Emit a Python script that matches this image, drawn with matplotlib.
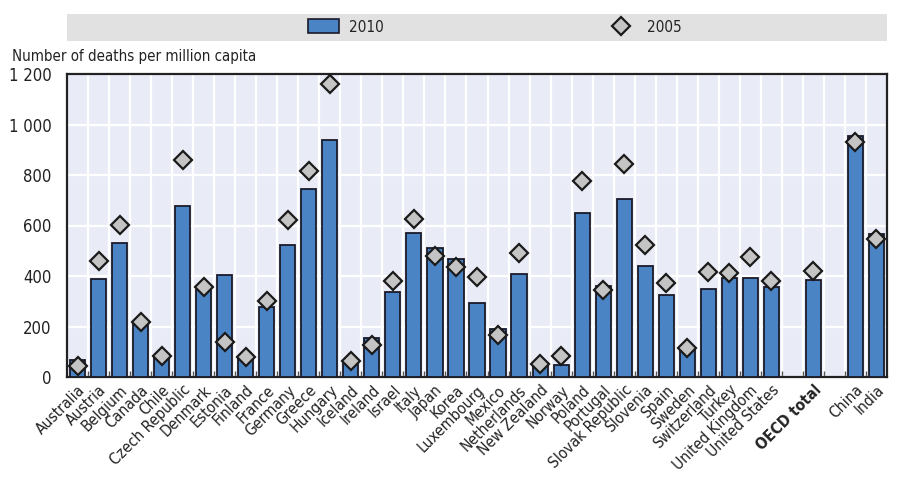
import numpy as np
import matplotlib.pyplot as plt
from matplotlib.patches import Rectangle
from matplotlib.lines import Line2D

plt.rcParams['font.family'] = ['DejaVu Sans']
plt.rcParams['font.stretch'] = 'condensed'

# OECD countries, then OECD total, then partner countries
countries = ["Australia", "Austria", "Belgium", "Canada", "Chile", "Czech Republic",
             "Denmark", "Estonia", "Finland", "France", "Germany", "Greece", "Hungary",
             "Iceland", "Ireland", "Israel", "Italy", "Japan", "Korea", "Luxembourg",
             "Mexico", "Netherlands", "New Zealand", "Norway", "Poland", "Portugal",
             "Slovak Republic", "Slovenia", "Spain", "Sweden", "Switzerland", "Turkey",
             "United Kingdom", "United States"]
deaths_2010 = [68, 388, 532, 212, 82, 677, 345, 402, 75, 277, 523, 745, 938,
               58, 156, 335, 570, 512, 467, 295, 190, 406, 55, 46, 650, 362,
               705, 438, 324, 114, 349, 394, 392, 356]
deaths_2005 = [45, 458, 603, 216, 82, 860, 355, 139, 78, 302, 620, 814, 1160,
               63, 126, 382, 624, 478, 437, 396, 165, 492, 52, 83, 777, 343,
               845, 521, 374, 116, 415, 410, 476, 381]

total_label = "OECD total"
total_2010 = 386
total_2005 = 418

partners = ["China", "India"]
partners_2010 = [953, 565]
partners_2005 = [930, 545]

# slot layout: countries, gap, OECD total, gap, partners
n = len(countries)
pos_countries = np.arange(n)
pos_total = n + 1
pos_partners = np.arange(n + 3, n + 3 + len(partners))
n_slots = n + 3 + len(partners)

labels = countries + [total_label] + partners
positions = list(pos_countries) + [pos_total] + list(pos_partners)
v2010 = deaths_2010 + [total_2010] + partners_2010
v2005 = deaths_2005 + [total_2005] + partners_2005

bar_color = "#4a84c4"
edge_color = "#1a1a2a"
bg_color = "#e9ecf7"
text_color = "#222222"

fig = plt.figure(figsize=(9.02, 4.83), dpi=100)
ax = fig.add_axes([67 / 902, 1 - 377 / 483, 820 / 902, 303 / 483])
ax.set_facecolor(bg_color)

ax.bar(positions, v2010, width=0.72, color=bar_color, edgecolor=edge_color,
       linewidth=1.3, zorder=3)
ax.plot(positions, v2005, linestyle="none", marker="D", markersize=9,
        markerfacecolor="#c4c4c4", markeredgecolor="#1a1a1a", markeredgewidth=1.6,
        zorder=4)

ax.set_xlim(-0.5, n_slots - 0.5)
ax.set_ylim(0, 1200)
ax.set_yticks(np.arange(0, 1201, 200))
ax.set_yticklabels(["{:,}".format(v).replace(",", " ") for v in range(0, 1201, 200)])
ax.grid(axis="y", color="white", linewidth=1.6, zorder=1)

# white separators between slots + small inward ticks at the bottom
bounds = np.arange(0.5, n_slots - 0.5, 1)
for b in bounds:
    ax.axvline(b, color="white", linewidth=1.6, zorder=1)
ax.set_xticks(bounds, minor=True)
ax.tick_params(axis="x", which="minor", direction="in", length=4, width=1,
               color="#555555")

ax.set_xticks(positions)
ax.set_xticklabels(labels, rotation=45, ha="right", rotation_mode="anchor",
                   fontsize=11.2, color=text_color)
ax.get_xticklabels()[n].set_fontweight("bold")
ax.tick_params(axis="x", which="major", length=0, pad=4)
ax.tick_params(axis="y", length=0, labelsize=12, pad=11, colors=text_color)

for s in ax.spines.values():
    s.set_linewidth(1.6)
    s.set_color("#222222")

fig.text(12 / 902, 1 - 57 / 483, "Number of deaths per million capita",
         fontsize=10.8, va="center", ha="left", color=text_color)

# legend band
fig.patches.append(Rectangle((67 / 902, 1 - 41 / 483), 820 / 902, 27 / 483,
                             transform=fig.transFigure, facecolor="#e1e1e1",
                             edgecolor="none", zorder=0))
handles = [Rectangle((0, 0), 1, 1, facecolor=bar_color, edgecolor=edge_color, linewidth=1.2),
           Line2D([], [], linestyle="none", marker="D", markersize=9,
                  markerfacecolor="#c4c4c4", markeredgecolor="#1a1a1a",
                  markeredgewidth=1.6)]
fig.legend(handles, ["2010", "2005"], loc="center", ncol=2,
           bbox_to_anchor=(495 / 902, 1 - 27 / 483), frameon=False,
           fontsize=11, columnspacing=14.5, handlelength=2.0,
           handleheight=1.0, handletextpad=0.7, labelcolor=text_color)

fig.savefig("out.png", dpi=100)
